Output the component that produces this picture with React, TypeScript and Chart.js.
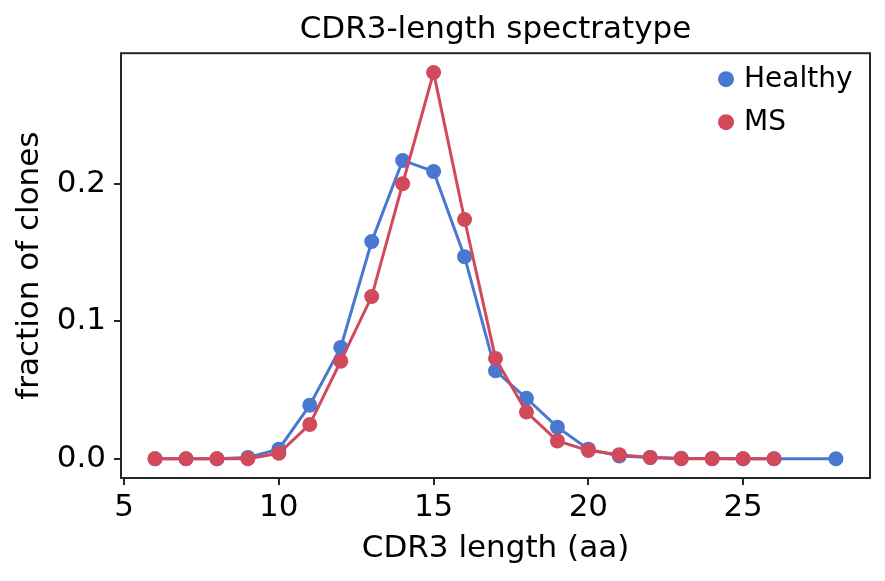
import { useEffect, useRef } from "react";
import { Chart, registerables, type Plugin } from "chart.js";

Chart.register(...registerables);

// CDR3 length (aa) for each series
const healthyLengths = [6, 7, 8, 9, 10, 11, 12, 13, 14, 15, 16, 17, 18, 19, 20, 21, 22, 23, 24, 25, 26, 28];
const healthyFraction = [0, 0, 0, 0.001, 0.007, 0.039, 0.081, 0.158, 0.217, 0.209, 0.147, 0.064, 0.044, 0.023, 0.007, 0.002, 0.001, 0.0003, 0.0001, 0, 0, 0];
const msLengths = [6, 7, 8, 9, 10, 11, 12, 13, 14, 15, 16, 17, 18, 19, 20, 21, 22, 23, 24, 25, 26];
const msFraction = [0, 0, 0, 0, 0.004, 0.025, 0.071, 0.118, 0.2, 0.281, 0.174, 0.073, 0.034, 0.013, 0.006, 0.003, 0.001, 0, 0, 0, 0];

const seriesNames = ["Healthy", "MS"];
const seriesColors = ["#4878CF", "#D1495B"];

const FONT = "'DejaVu Sans', sans-serif";
const AXIS_COLOR = "#262626";

// box around the plot + legend inside the top right corner
const framePlugin: Plugin<"line"> = {
  id: "frame",
  afterDraw(chart) {
    const { ctx, chartArea } = chart;
    ctx.save();
    ctx.strokeStyle = AXIS_COLOR;
    ctx.lineWidth = 2;
    ctx.strokeRect(chartArea.left, chartArea.top, chartArea.right - chartArea.left, chartArea.bottom - chartArea.top);

    ctx.font = `28px ${FONT}`;
    ctx.textBaseline = "middle";
    ctx.textAlign = "left";
    seriesNames.forEach((name, i) => {
      const y = chartArea.top + 26 + i * 43;
      const mx = chartArea.right - 144;
      ctx.fillStyle = seriesColors[i];
      ctx.beginPath();
      ctx.arc(mx, y, 8, 0, Math.PI * 2);
      ctx.fill();
      ctx.fillStyle = "#000";
      ctx.fillText(name, chartArea.right - 126, y + 1);
    });
    ctx.restore();
  },
};

export default function App() {
  const canvasRef = useRef<HTMLCanvasElement>(null);

  useEffect(() => {
    document.body.style.margin = "0";
    if (!canvasRef.current) return;

    const makeSeries = (xs: number[], ys: number[]) => xs.map((x, i) => ({ x, y: ys[i] }));

    const chart = new Chart(canvasRef.current, {
      type: "line",
      data: {
        datasets: [
          {
            label: seriesNames[0],
            data: makeSeries(healthyLengths, healthyFraction),
            borderColor: seriesColors[0],
            backgroundColor: seriesColors[0],
            borderWidth: 3,
            pointRadius: 7.5,
            pointBorderWidth: 0,
            order: 2,
          },
          {
            label: seriesNames[1],
            data: makeSeries(msLengths, msFraction),
            borderColor: seriesColors[1],
            backgroundColor: seriesColors[1],
            borderWidth: 3,
            pointRadius: 7.5,
            pointBorderWidth: 0,
            order: 1,
          },
        ],
      },
      options: {
        responsive: false,
        animation: false,
        layout: { padding: { left: 0, right: 15, top: 0, bottom: 0 } },
        plugins: {
          legend: { display: false },
          tooltip: { enabled: false },
          title: {
            display: true,
            text: "CDR3-length spectratype",
            fullSize: false,
            color: "#000",
            font: { family: FONT, size: 31, weight: "normal" },
            padding: { top: 11, bottom: 5 },
          },
        },
        scales: {
          x: {
            type: "linear",
            min: 4.9,
            max: 29.1,
            border: { display: false },
            grid: { drawOnChartArea: false, drawTicks: true, tickLength: 7, color: AXIS_COLOR, lineWidth: 2 },
            ticks: {
              stepSize: 5,
              includeBounds: false,
              padding: 4,
              color: "#000",
              font: { family: FONT, size: 31 },
              maxRotation: 0,
            },
            title: {
              display: true,
              text: "CDR3 length (aa)",
              color: "#000",
              font: { family: FONT, size: 31 },
              padding: { top: 0, bottom: 13 },
            },
            afterFit: (scale) => {
              scale.height = 103;
            },
          },
          y: {
            type: "linear",
            min: -0.014,
            max: 0.295,
            border: { display: false },
            grid: { drawOnChartArea: false, drawTicks: true, tickLength: 7, color: AXIS_COLOR, lineWidth: 2 },
            ticks: {
              stepSize: 0.1,
              includeBounds: false,
              padding: 8,
              color: "#000",
              font: { family: FONT, size: 31 },
              callback: (v) => Number(v).toFixed(1),
            },
            title: {
              display: true,
              text: "fraction of clones",
              color: "#000",
              font: { family: FONT, size: 31 },
              padding: { top: 11, bottom: 0 },
            },
            afterFit: (scale) => {
              scale.width = 121;
            },
          },
        },
      },
      plugins: [framePlugin],
    });

    return () => {
      chart.destroy();
    };
  }, []);

  return (
    <div style={{ width: 885, height: 581, background: "#fff" }}>
      <canvas ref={canvasRef} width={885} height={581} />
    </div>
  );
}
